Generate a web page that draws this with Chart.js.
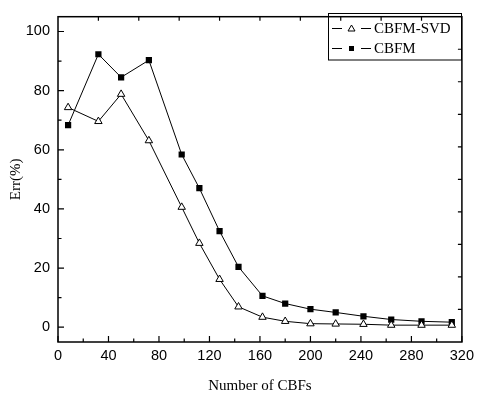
<!DOCTYPE html>
<html>
<head>
<meta charset="utf-8">
<script src="https://cdn.jsdelivr.net/npm/chart.js@4.4.1/dist/chart.umd.min.js"></script>
<style>
  html, body { margin: 0; padding: 0; background: #fff; }
</style>
</head>
<body>
<canvas id="errChart" width="479" height="396"></canvas>
<script>
// values
const cbfCounts = [8, 32, 50, 72, 98, 112, 128, 143, 162, 180, 200, 220, 242, 264, 288, 312];
const errSvd = [74.3, 69.6, 78.8, 63.1, 40.6, 28.4, 16.2, 6.9, 3.4, 2.0, 1.2, 1.1, 1.0, 0.7, 0.7, 0.7];
const errCbfm = [68.3, 92.3, 84.5, 90.3, 58.4, 47.0, 32.5, 20.4, 10.6, 8.0, 6.1, 5.0, 3.7, 2.6, 2.0, 1.7];
const seriesNames = ['CBFM-SVD', 'CBFM'];
const xTicks = [0, 40, 80, 120, 160, 200, 240, 280, 320];
const yTicks = [0, 20, 40, 60, 80, 100];
const xRange = [0, 320];
const yRange = [-5, 105];

const toPoints = (xs, ys) => xs.map((x, i) => ({ x, y: ys[i] }));

// frame, inward ticks (Origin style) and the boxed legend
const framePlugin = {
  id: 'frame',
  afterDraw(chart) {
    const { ctx, chartArea: a, scales: { x, y } } = chart;
    ctx.save();
    ctx.strokeStyle = '#000';
    ctx.lineWidth = 1.5;
    ctx.strokeRect(a.left, a.top, a.right - a.left, a.bottom - a.top);

    ctx.lineWidth = 1.2;
    ctx.beginPath();
    // bottom: major every 40, minor every 20
    for (let v = xRange[0]; v <= xRange[1]; v += 20) {
      const px = x.getPixelForValue(v);
      const len = v % 40 === 0 ? 6 : 3.5;
      ctx.moveTo(px, a.bottom);
      ctx.lineTo(px, a.bottom - len);
    }
    // top: 10 divisions
    for (let i = 1; i < 10; i++) {
      const px = x.getPixelForValue(xRange[0] + i * (xRange[1] - xRange[0]) / 10);
      ctx.moveTo(px, a.top);
      ctx.lineTo(px, a.top + 4);
    }
    // left: major every 20, minor every 10
    for (let v = 0; v <= 100; v += 10) {
      const py = y.getPixelForValue(v);
      const len = v % 20 === 0 ? 6 : 3.5;
      ctx.moveTo(a.left, py);
      ctx.lineTo(a.left + len, py);
    }
    // right: 10 divisions
    for (let i = 1; i < 10; i++) {
      const py = y.getPixelForValue(yRange[0] + i * (yRange[1] - yRange[0]) / 10);
      ctx.moveTo(a.right, py);
      ctx.lineTo(a.right - 4, py);
    }
    ctx.stroke();

    // legend
    const bx = 328.5, by = 13.5, bw = 133, bh = 46.5;
    ctx.lineWidth = 1;
    ctx.strokeRect(bx, by, bw, bh);
    const rows = [28, 48];
    ctx.font = '15px "Liberation Serif", "Times New Roman", serif';
    ctx.textBaseline = 'middle';
    chart.data.datasets.forEach((ds, i) => {
      const ry = rows[i];
      ctx.fillStyle = '#000';
      ctx.fillRect(332, ry, 10, 1);
      ctx.fillRect(361, ry, 10, 1);
      if (ds.pointStyle === 'triangle') {
        ctx.beginPath();
        ctx.moveTo(351.5, ry - 3);
        ctx.lineTo(355, ry + 3);
        ctx.lineTo(348, ry + 3);
        ctx.closePath();
        ctx.fillStyle = '#fff';
        ctx.fill();
        ctx.stroke();
      } else {
        ctx.fillRect(349, ry - 2, 5, 5);
      }
      ctx.fillStyle = '#000';
      ctx.fillText(ds.label, 374, ry + 1.5);
    });
    ctx.restore();
  }
};

new Chart(document.getElementById('errChart'), {
  type: 'scatter',
  data: {
    datasets: [
      {
        label: seriesNames[0],
        data: toPoints(cbfCounts, errSvd),
        showLine: true,
        borderColor: '#000',
        borderWidth: 1,
        pointStyle: 'triangle',
        pointRadius: 4.3,
        pointBackgroundColor: '#fff',
        pointBorderColor: '#000',
        pointBorderWidth: 1,
      },
      {
        label: seriesNames[1],
        data: toPoints(cbfCounts, errCbfm),
        showLine: true,
        borderColor: '#000',
        borderWidth: 1,
        pointStyle: 'rect',
        pointRadius: 4.4,
        pointBackgroundColor: '#000',
        pointBorderColor: '#000',
        pointBorderWidth: 0,
      }
    ]
  },
  options: {
    responsive: false,
    animation: false,
    devicePixelRatio: 1,
    layout: { padding: { top: 5, right: 13, left: 0, bottom: 0 } },
    plugins: {
      legend: { display: false },
      tooltip: { enabled: false }
    },
    scales: {
      x: {
        type: 'linear',
        min: xRange[0],
        max: xRange[1],
        afterFit: s => { s.height = 54; },
        afterBuildTicks: s => { s.ticks = xTicks.map(v => ({ value: v })); },
        grid: { display: false, drawTicks: false },
        border: { display: false },
        ticks: {
          padding: 5,
          color: '#000',
          font: { family: '"Liberation Sans", Arial, sans-serif', size: 14.5 }
        },
        title: {
          display: true,
          text: 'Number of CBFs',
          color: '#000',
          padding: { bottom: 1 },
          font: { family: '"Liberation Serif", "Times New Roman", serif', size: 15 }
        }
      },
      y: {
        type: 'linear',
        min: yRange[0],
        max: yRange[1],
        afterFit: s => { s.width = 58; },
        afterBuildTicks: s => { s.ticks = yTicks.map(v => ({ value: v })); },
        grid: { display: false, drawTicks: false },
        border: { display: false },
        ticks: {
          padding: 8,
          color: '#000',
          font: { family: '"Liberation Sans", Arial, sans-serif', size: 14.5 }
        },
        title: {
          display: true,
          text: 'Err(%)',
          color: '#000',
          padding: { top: 7 },
          font: { family: '"Liberation Serif", "Times New Roman", serif', size: 15 }
        }
      }
    }
  },
  plugins: [framePlugin]
});
</script>
</body>
</html>
